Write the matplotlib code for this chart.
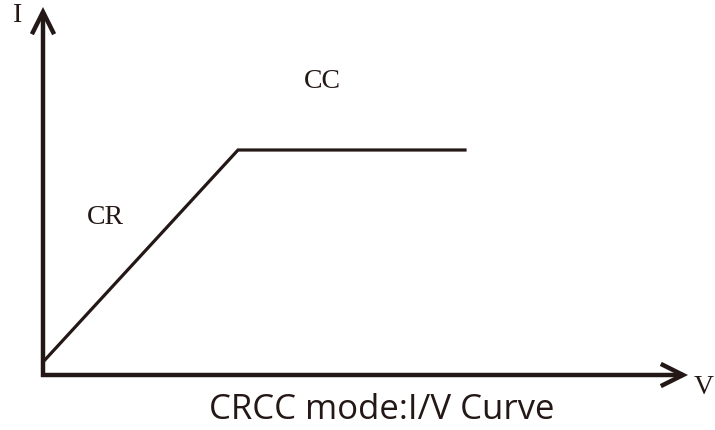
import matplotlib.pyplot as plt
from matplotlib.patches import FancyArrowPatch

# CRCC curve: V / I in drawing units (origin at the axes corner)
v_curve = [0, 195, 422]
i_curve = [13, 225, 225]

x_axis_end = 645
y_axis_end = 368

region_labels = ['CR', 'CC']
region_v = [62, 279]
region_i = [157, 293]

ink = '#231815'

fig = plt.figure(figsize=(7.15, 4.3), dpi=100)
ax = fig.add_axes([0, 0, 1, 1])
ax.set_xlim(-43, 672)
ax.set_ylim(-55, 375)
ax.axis('off')

# axes with open arrow heads
for start, end in [((-2, 0), (x_axis_end, 0)), ((0, -2), (0, y_axis_end))]:
    arr = FancyArrowPatch(start, end, arrowstyle='->,head_length=0.8,head_width=0.4',
                          mutation_scale=20, lw=3.2, color=ink,
                          shrinkA=0, shrinkB=0, joinstyle='miter', capstyle='butt')
    ax.add_patch(arr)

ax.plot(v_curve, i_curve, color=ink, lw=2.3, solid_joinstyle='miter')

serif = ['Liberation Serif', 'DejaVu Serif']
ax.text(-25, 360, 'I', fontsize=20, family=serif, color=ink, ha='center', va='center')
ax.text(661, -12, 'V', fontsize=20, family=serif, color=ink, ha='center', va='center')
for lab, x, y in zip(region_labels, region_v, region_i):
    ax.text(x, y, lab, fontsize=20, family=serif, color=ink, ha='center', va='center')

ax.text(339, -35, 'CRCC mode:I/V Curve', fontsize=25, family=['Open Sans', 'DejaVu Sans'],
        color=ink, ha='center', va='center')

fig.savefig('out.png', dpi=100)
